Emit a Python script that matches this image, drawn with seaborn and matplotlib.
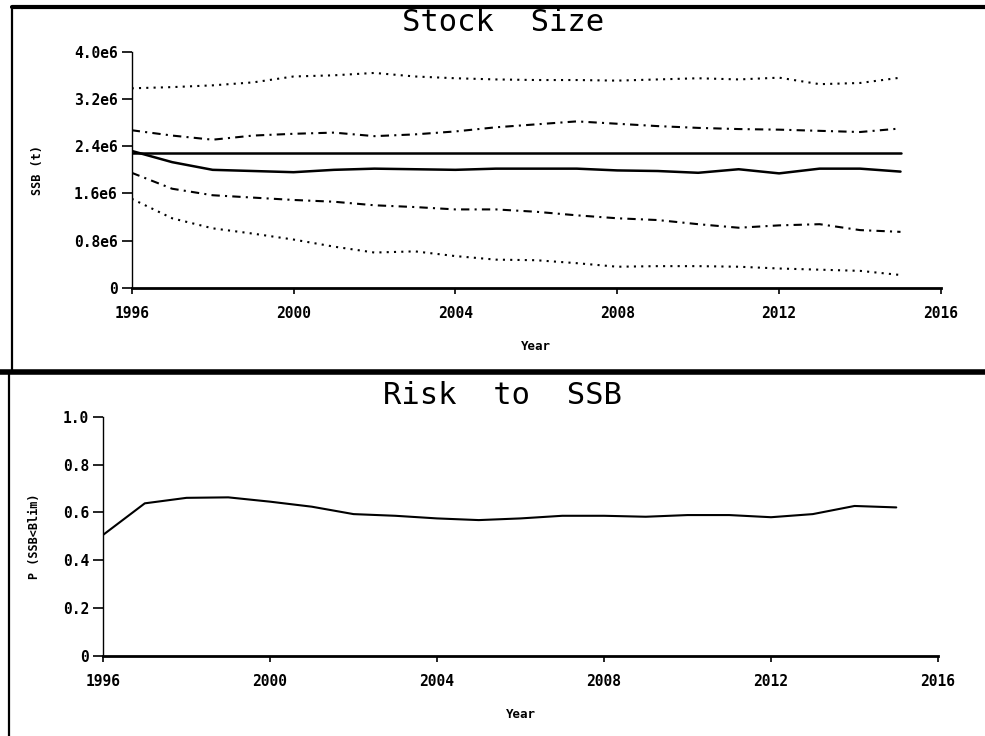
import matplotlib
matplotlib.use("Agg")
import matplotlib.pyplot as plt
from matplotlib.lines import Line2D
import seaborn as sns
import pandas as pd

# Projection years
years = list(range(1996, 2016))

# Spawning stock biomass percentiles (t)
ssb_p95 = [3.38e6, 3.40e6, 3.43e6, 3.48e6, 3.58e6, 3.60e6, 3.64e6, 3.58e6, 3.55e6, 3.53e6,
           3.52e6, 3.52e6, 3.51e6, 3.53e6, 3.55e6, 3.53e6, 3.56e6, 3.45e6, 3.47e6, 3.56e6]
ssb_p75 = [2.67e6, 2.58e6, 2.51e6, 2.58e6, 2.61e6, 2.63e6, 2.57e6, 2.60e6, 2.65e6, 2.72e6,
           2.77e6, 2.82e6, 2.78e6, 2.74e6, 2.71e6, 2.69e6, 2.68e6, 2.66e6, 2.64e6, 2.70e6]
ssb_median = [2.32e6, 2.13e6, 2.00e6, 1.98e6, 1.96e6, 2.00e6, 2.02e6, 2.01e6, 2.00e6, 2.02e6,
              2.02e6, 2.02e6, 1.99e6, 1.98e6, 1.95e6, 2.01e6, 1.94e6, 2.02e6, 2.02e6, 1.97e6]
ssb_p25 = [1.95e6, 1.68e6, 1.57e6, 1.53e6, 1.49e6, 1.46e6, 1.40e6, 1.37e6, 1.33e6, 1.33e6,
           1.29e6, 1.23e6, 1.18e6, 1.15e6, 1.08e6, 1.02e6, 1.06e6, 1.08e6, 0.98e6, 0.95e6]
ssb_p05 = [1.51e6, 1.18e6, 1.01e6, 0.92e6, 0.82e6, 0.70e6, 0.60e6, 0.62e6, 0.54e6, 0.48e6,
           0.47e6, 0.42e6, 0.36e6, 0.37e6, 0.37e6, 0.36e6, 0.33e6, 0.31e6, 0.29e6, 0.22e6]
ssb_reference = [2.28e6] * len(years)

# Probability of SSB falling below the limit
risk = [0.506, 0.638, 0.661, 0.663, 0.645, 0.624, 0.593, 0.586, 0.575, 0.568,
        0.575, 0.586, 0.586, 0.582, 0.589, 0.589, 0.580, 0.593, 0.627, 0.621]

ssb_ticks = [0, 0.8e6, 1.6e6, 2.4e6, 3.2e6, 4.0e6]
ssb_ticklabels = ["0", "0.8e6", "1.6e6", "2.4e6", "3.2e6", "4.0e6"]
risk_ticks = [0, 0.2, 0.4, 0.6, 0.8, 1.0]
risk_ticklabels = ["0", "0.2", "0.4", "0.6", "0.8", "1.0"]
year_ticks = [1996, 2000, 2004, 2008, 2012, 2016]

sns.set_theme(style="white")
plt.rcParams["font.family"] = ["DejaVu Sans Mono", "DejaVu Sans"]

fig = plt.figure(figsize=(9.85, 7.36), dpi=100)
fig.patch.set_facecolor("white")

ax1 = fig.add_axes([0.1337, 0.6087, 0.8216, 0.3211])
ax2 = fig.add_axes([0.1046, 0.1087, 0.8477, 0.3251])

ssb = pd.DataFrame({
    "year": years,
    "p95": ssb_p95, "p75": ssb_p75, "median": ssb_median,
    "p25": ssb_p25, "p05": ssb_p05, "ref": ssb_reference,
})

series_style = [
    ("p95", (0, (1, 2.5)), 1.5),
    ("p75", (0, (4, 2.5, 1, 2.5)), 1.5),
    ("ref", "-", 1.8),
    ("median", "-", 1.8),
    ("p25", (0, (4, 2.5, 1, 2.5)), 1.5),
    ("p05", (0, (1, 2.5)), 1.5),
]
for col, ls, lw in series_style:
    sns.lineplot(data=ssb, x="year", y=col, ax=ax1, color="black",
                 linestyle=ls, linewidth=lw, legend=False)

rk = pd.DataFrame({"year": years, "risk": risk})
sns.lineplot(data=rk, x="year", y="risk", ax=ax2, color="black",
             linewidth=1.5, legend=False)

tick_font = dict(family="DejaVu Sans Mono", weight="bold", size=10.5)
for ax, yt, ytl, ylab, ypad in [
    (ax1, ssb_ticks, ssb_ticklabels, "SSB (t)", 22),
    (ax2, risk_ticks, risk_ticklabels, "P (SSB<Blim)", 16),
]:
    ax.set_xlim(1996, 2016)
    ax.set_ylim(yt[0], yt[-1])
    ax.set_xticks(year_ticks)
    ax.set_xticklabels([str(y) for y in year_ticks], fontdict=tick_font)
    ax.set_yticks(yt)
    ax.set_yticklabels(ytl, fontdict=tick_font)
    for s in ["top", "right"]:
        ax.spines[s].set_visible(False)
    ax.spines["left"].set_linewidth(1.0)
    ax.spines["bottom"].set_linewidth(2.0)
    ax.spines["left"].set_color("black")
    ax.spines["bottom"].set_color("black")
    ax.tick_params(axis="y", direction="out", length=7, width=1.2, pad=3,
                   left=True, colors="black")
    ax.tick_params(axis="x", direction="out", length=4, width=1.2, pad=9,
                   bottom=True, colors="black")
    ax.set_xlabel("Year", fontsize=9, fontweight="bold", labelpad=14,
                  color="black")
    ax.set_ylabel(ylab, fontsize=8.5, fontweight="bold", labelpad=ypad,
                  color="black")
    ax.set_facecolor("white")

# Panel titles
fig.text(0.511, 0.969, "Stock  Size", ha="center", va="center",
         fontsize=22, family="DejaVu Sans Mono", color="black")
fig.text(0.51, 0.463, "Risk  to  SSB", ha="center", va="center",
         fontsize=22, family="DejaVu Sans Mono", color="black")

# Panel frames
frame = [
    ([0.012, 1.0], [0.990, 0.990], 3.0),
    ([0.012, 0.012], [0.990, 0.495], 1.6),
    ([0.0, 1.0], [0.495, 0.495], 4.0),
    ([0.009, 0.009], [0.495, 0.0], 1.6),
]
for xs, ys, lw in frame:
    fig.add_artist(Line2D(xs, ys, transform=fig.transFigure,
                          color="black", linewidth=lw))

fig.savefig("out.png", dpi=100, facecolor="white")
